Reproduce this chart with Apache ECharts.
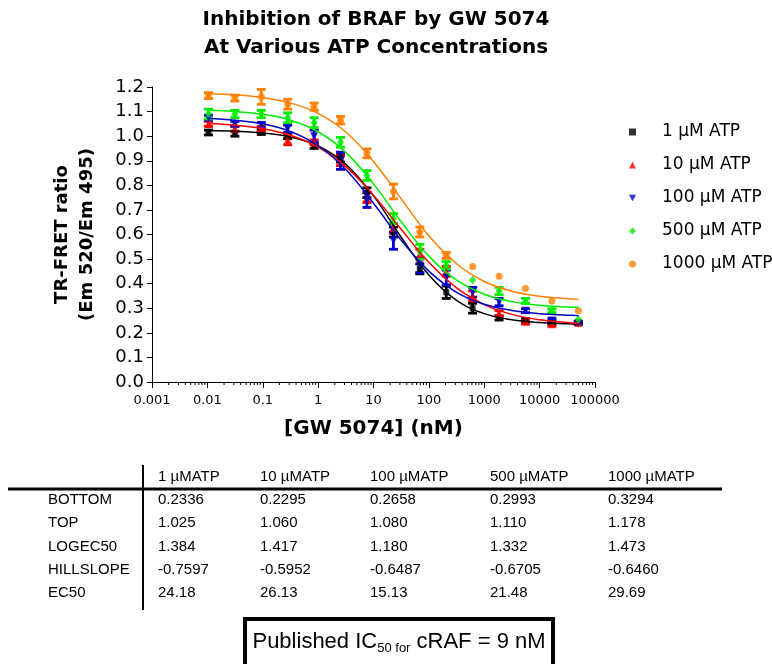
<!DOCTYPE html>
<html>
<head>
<meta charset="utf-8">
<script src="https://cdn.jsdelivr.net/npm/echarts@6/dist/echarts.min.js"></script>
<style>
  html, body { margin: 0; padding: 0; background: #fff; }
  #chart { width: 772px; height: 664px; }
</style>
</head>
<body>
<div id="chart"></div>
<script>
// GW 5074 concentrations (nM), 3-fold dilution series
var conc = [0.01045, 0.0314, 0.0941, 0.282, 0.847, 2.54, 7.62, 22.9, 68.6, 206, 617, 1852, 5556, 16667, 50000];

var seriesNames = ['1 µM ATP', '10 µM ATP', '100 µM ATP', '500 µM ATP', '1000 µM ATP'];
var seriesColors = ['#000000', '#ff0000', '#0000c8', '#00ee00', '#ff8000'];

// mean TR-FRET ratio and error per concentration
var mean1 = [1.015, 1.01, 1.015, 1.00, 0.96, 0.91, 0.77, 0.61, 0.46, 0.365, 0.30, 0.26, 0.25, 0.24, 0.24];
var err1 = [0.010, 0.010, 0.008, 0.010, 0.010, 0.015, 0.020, 0.020, 0.020, 0.025, 0.020, 0.008, 0.008, 0.006, 0.005];
var mean10 = [1.05, 1.03, 1.03, 0.985, 0.975, 0.90, 0.75, 0.625, 0.52, 0.45, 0.35, 0.28, 0.245, 0.235, 0.24];
var err10 = [0.010, 0.010, 0.010, 0.020, 0.010, 0.020, 0.020, 0.020, 0.020, 0.020, 0.020, 0.010, 0.008, 0.008, 0.005];
var mean100 = [1.075, 1.05, 1.045, 1.03, 1.00, 0.90, 0.74, 0.575, 0.475, 0.425, 0.365, 0.325, 0.29, 0.25, 0.24];
var err100 = [0.010, 0.010, 0.010, 0.015, 0.025, 0.035, 0.030, 0.035, 0.030, 0.030, 0.020, 0.015, 0.008, 0.008, 0.005];
var mean500 = [1.09, 1.09, 1.09, 1.075, 1.055, 0.975, 0.84, 0.665, 0.53, 0.475, 0.415, 0.37, 0.33, 0.29, 0.255];
var err500 = [0.020, 0.015, 0.015, 0.020, 0.020, 0.020, 0.020, 0.020, 0.030, 0.015, 0, 0.015, 0.010, 0.008, 0];
var mean1000 = [1.165, 1.155, 1.16, 1.13, 1.12, 1.065, 0.93, 0.775, 0.61, 0.515, 0.47, 0.43, 0.38, 0.33, 0.29];
var err1000 = [0.012, 0.012, 0.030, 0.020, 0.015, 0.015, 0.018, 0.030, 0.020, 0.012, 0, 0, 0, 0, 0];

// fitted curves, read at half-decade steps of log[GW 5074]
var fitLogConc = [-2, -1.5, -1, -0.5, 0, 0.5, 1, 1.5, 2, 2.5, 3, 3.5, 4, 4.5, 4.7];
var fit1 = [1.023, 1.020, 1.013, 0.997, 0.960, 0.886, 0.757, 0.589, 0.435, 0.332, 0.278, 0.253, 0.242, 0.237, 0.236];
var fit10 = [1.052, 1.045, 1.031, 1.004, 0.956, 0.876, 0.760, 0.621, 0.487, 0.383, 0.315, 0.275, 0.253, 0.242, 0.239];
var fit100 = [1.073, 1.065, 1.050, 1.019, 0.961, 0.864, 0.727, 0.577, 0.451, 0.365, 0.316, 0.291, 0.278, 0.272, 0.270];
var fit500 = [1.105, 1.100, 1.089, 1.065, 1.018, 0.934, 0.806, 0.652, 0.512, 0.414, 0.357, 0.327, 0.312, 0.305, 0.304];
var fit1000 = [1.173, 1.168, 1.157, 1.135, 1.093, 1.017, 0.897, 0.745, 0.595, 0.481, 0.409, 0.369, 0.349, 0.339, 0.336];

var xTickLabels = ['0.001', '0.01', '0.1', '1', '10', '100', '1000', '10000', '100000'];

// fit parameter table
var tableHeaders = ['1 µMATP', '10 µMATP', '100 µMATP', '500 µMATP', '1000 µMATP'];
var tableRowNames = ['BOTTOM', 'TOP', 'LOGEC50', 'HILLSLOPE', 'EC50'];
var tableBottom = ['0.2336', '0.2295', '0.2658', '0.2993', '0.3294'];
var tableTop = ['1.025', '1.060', '1.080', '1.110', '1.178'];
var tableLogEC50 = ['1.384', '1.417', '1.180', '1.332', '1.473'];
var tableHill = ['-0.7597', '-0.5952', '-0.6487', '-0.6705', '-0.6460'];
var tableEC50 = ['24.18', '26.13', '15.13', '21.48', '29.69'];

var means = [mean1, mean10, mean100, mean500, mean1000];
var errs = [err1, err10, err100, err500, err1000];
var fits = [fit1, fit10, fit100, fit500, fit1000];
var downTriangle = 'path://M0,0L10,0L5,9Z';
var symbols = [
  { symbol: 'rect', size: 6 },
  { symbol: 'triangle', size: 8 },
  { symbol: downTriangle, size: 8 },
  { symbol: 'diamond', size: [7, 9] },
  { symbol: 'circle', size: 7 }
];

var FONT = '"DejaVu Sans", sans-serif';
var TABLE_FONT = '"Liberation Sans", Arial, sans-serif';

function errorBarSeries(idx) {
  var color = seriesColors[idx];
  var data = conc.map(function (c, i) {
    return [Math.log10(c), means[idx][i] - errs[idx][i], means[idx][i] + errs[idx][i]];
  });
  return {
    type: 'custom',
    name: seriesNames[idx] + ' error',
    data: data,
    encode: { x: 0, y: [1, 2] },
    silent: true,
    renderItem: function (params, api) {
      if (api.value(2) - api.value(1) <= 0) {
        return null;
      }
      var lo = api.coord([api.value(0), api.value(1)]);
      var hi = api.coord([api.value(0), api.value(2)]);
      var w = 4.5;
      var st = { stroke: color, lineWidth: 2.8 };
      return {
        type: 'group',
        children: [
          { type: 'line', shape: { x1: lo[0], y1: lo[1], x2: hi[0], y2: hi[1] }, style: st },
          { type: 'line', shape: { x1: lo[0] - w, y1: lo[1], x2: lo[0] + w, y2: lo[1] }, style: st },
          { type: 'line', shape: { x1: hi[0] - w, y1: hi[1], x2: hi[0] + w, y2: hi[1] }, style: st }
        ]
      };
    }
  };
}

function pointSeries(idx) {
  return {
    type: 'scatter',
    name: seriesNames[idx],
    data: conc.map(function (c, i) { return [Math.log10(c), means[idx][i]]; }),
    symbol: symbols[idx].symbol,
    symbolSize: symbols[idx].size,
    itemStyle: { color: seriesColors[idx] },
    silent: true
  };
}

function fitSeries(idx) {
  return {
    type: 'line',
    name: seriesNames[idx] + ' fit',
    data: fitLogConc.map(function (x, i) { return [x, fits[idx][i]]; }),
    smooth: 0.4,
    showSymbol: false,
    lineStyle: { color: seriesColors[idx], width: 1.5 },
    silent: true
  };
}

// log minor ticks below the x axis
var minorTickPos = [];
for (var d = -3; d < 5; d++) {
  for (var k = 2; k <= 9; k++) {
    minorTickPos.push([d + Math.log10(k)]);
  }
}
var minorTickSeries = {
  type: 'custom',
  name: 'minor ticks',
  data: minorTickPos,
  encode: { x: 0 },
  clip: false,
  silent: true,
  renderItem: function (params, api) {
    var p = api.coord([api.value(0), 0]);
    return {
      type: 'line',
      shape: { x1: p[0], y1: p[1], x2: p[0], y2: p[1] + 3 },
      style: { stroke: '#000', lineWidth: 1 }
    };
  }
};

var series = [minorTickSeries];
for (var s = 0; s < 5; s++) {
  series.push(errorBarSeries(s));
  series.push(pointSeries(s));
}
for (var s2 = 0; s2 < 5; s2++) {
  series.push(fitSeries(s2));
}

// legend entries use the same marker shapes as the points
var legendData = seriesNames.map(function (n, i) {
  return { name: n, icon: symbols[i].symbol };
});

// table + published IC50 box drawn as graphic elements
var colX = [158, 260, 370, 490, 608];
var rowY = [500, 523, 547, 570, 593];
var tableRows = [tableBottom, tableTop, tableLogEC50, tableHill, tableEC50];
var graphics = [];
var txt = function (x, y, text) {
  return {
    type: 'text', x: x, y: y, silent: true,
    style: {
      text: text, fill: '#000', fontFamily: TABLE_FONT, fontSize: 15,
      textAlign: 'left', textVerticalAlign: 'middle'
    }
  };
};
tableHeaders.forEach(function (h, i) { graphics.push(txt(colX[i], 477, h)); });
tableRowNames.forEach(function (r, j) {
  graphics.push(txt(48, rowY[j], r));
  tableRows[j].forEach(function (v, i) { graphics.push(txt(colX[i], rowY[j], v)); });
});
graphics.push({ type: 'line', silent: true, shape: { x1: 8, y1: 489, x2: 722, y2: 489 }, style: { stroke: '#000', lineWidth: 3 } });
graphics.push({ type: 'line', silent: true, shape: { x1: 143, y1: 465, x2: 143, y2: 610 }, style: { stroke: '#000', lineWidth: 2 } });
graphics.push({ type: 'rect', silent: true, shape: { x: 245, y: 619, width: 308, height: 60 }, style: { fill: '#fff', stroke: '#000', lineWidth: 4 } });
graphics.push({
  type: 'text', x: 399, y: 629, silent: true,
  style: {
    text: 'Published IC{sub|50 for} cRAF = 9 nM',
    fill: '#000',
    fontFamily: TABLE_FONT,
    fontSize: 22,
    textAlign: 'center',
    lineHeight: 26,
    rich: {
      sub: { fontSize: 13, fontFamily: TABLE_FONT, lineHeight: 13, verticalAlign: 'bottom', fill: '#000' }
    }
  }
});

var chart = echarts.init(document.getElementById('chart'));
chart.setOption({
  animation: false,
  backgroundColor: '#fff',
  title: {
    text: 'Inhibition of BRAF by GW 5074\nAt Various ATP Concentrations',
    left: 371,
    top: 1,
    textAlign: 'center',
    textStyle: { fontFamily: FONT, fontSize: 20, fontWeight: 'bold', lineHeight: 28, color: '#000' }
  },
  legend: {
    orient: 'vertical',
    left: 624,
    top: 117,
    itemWidth: 7,
    itemHeight: 7,
    itemGap: 13,
    selectedMode: false,
    data: legendData,
    textStyle: { fontFamily: FONT, fontSize: 17, lineHeight: 20, color: '#000', padding: [0, 0, 0, 21] }
  },
  grid: { left: 152, right: 177, top: 87, bottom: 282, containLabel: false },
  xAxis: {
    type: 'value',
    min: -3,
    max: 5,
    interval: 1,
    name: '[GW 5074] (nM)',
    nameLocation: 'middle',
    nameGap: 37,
    nameTextStyle: { fontFamily: FONT, fontSize: 20, fontWeight: 'bold', color: '#000' },
    axisLine: { onZero: false, lineStyle: { color: '#000', width: 1 } },
    axisTick: { length: 6, lineStyle: { color: '#000' } },
    axisLabel: {
      margin: 12,
      fontFamily: FONT,
      fontSize: 13,
      color: '#000',
      formatter: function (v) { return xTickLabels[Math.round(v) + 3]; }
    },
    splitLine: { show: false }
  },
  yAxis: {
    type: 'value',
    min: 0,
    max: 1.2,
    interval: 0.1,
    name: 'TR-FRET ratio\n(Em 520/Em 495)',
    nameLocation: 'middle',
    nameRotate: 90,
    nameGap: 52,
    nameTextStyle: { fontFamily: FONT, fontSize: 18, fontWeight: 'bold', lineHeight: 25, color: '#000' },
    axisLine: { show: true, onZero: false, lineStyle: { color: '#000', width: 1 } },
    axisTick: { show: true, length: 5, lineStyle: { color: '#000' } },
    axisLabel: {
      margin: 8,
      fontFamily: FONT,
      fontSize: 18,
      color: '#000',
      formatter: function (v) { return v.toFixed(1); }
    },
    splitLine: { show: false }
  },
  graphic: graphics,
  series: series
});
</script>
</body>
</html>
